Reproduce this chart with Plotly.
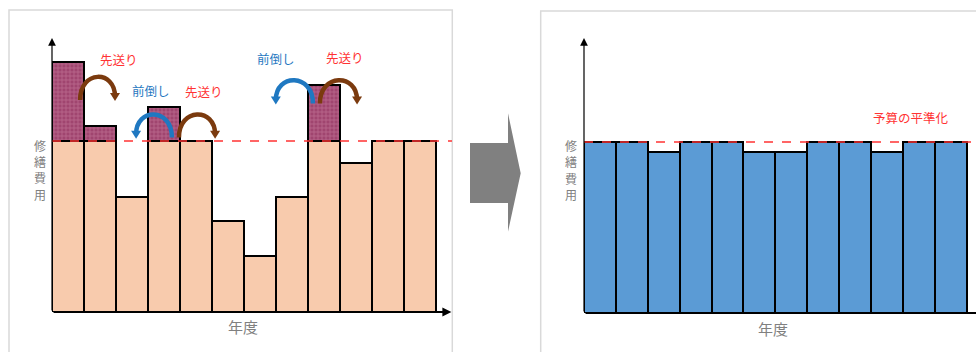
import plotly.graph_objects as go

# ---------------- data ----------------
years = list(range(12))
left_base = [100, 100, 67, 100, 100, 53, 33, 67, 100, 87, 100, 100]
left_excess = [46, 9, 0, 20, 0, 0, 0, 0, 33, 0, 0, 0]
right_values = [100, 100, 94, 100, 100, 94, 94, 100, 100, 94, 100, 100]
budget = 100
y_label = ["修", "繕", "費", "用"]
x_label = "年度"
level_label = "予算の平準化"
# curved arrows: (x_from, x_to, y_base, y_top, kind)
arcs = [
    (0.38, 1.47, 127, 138, "late"),
    (3.25, 2.13, 105, 116, "early"),
    (3.47, 4.60, 105, 116, "late"),
    (7.66, 6.50, 125, 136, "early"),
    (7.88, 9.04, 125, 136, "late"),
]
arc_labels = [
    (1.58, 147.4, "先送り", "late"),
    (2.61, 129.8, "前倒し", "early"),
    (4.24, 128.7, "先送り", "late"),
    (6.52, 148.5, "前倒し", "early"),
    (8.66, 149.1, "先送り", "late"),
]

W, H = 976, 352
ORANGE = "#F8CBAD"
PURPLE = "#A0456F"
BLUE_BAR = "#5B9BD5"
RED = "#FF3333"
C_EARLY = "#1F78C1"
C_LATE = "#7B3A0E"
GRAY_TXT = "#808080"

# pixel geometry of the two plots
L_X0, L_X1, L_XEND = 52, 435.7, 452
R_X0, R_X1, R_XEND = 584, 966.7, 976
L_Y0, R_Y0, Y_TOP = 312, 313, 38
PX_PER_UNIT_Y = 1.71
sxL = (L_X1 - L_X0) / 12
sxR = (R_X1 - R_X0) / 12

fig = go.Figure()
fig.add_trace(go.Bar(x=years, y=left_base, marker=dict(color=ORANGE, line=dict(color="#000", width=2)),
                     xaxis="x", yaxis="y", width=1, hoverinfo="skip"))
fig.add_trace(go.Bar(x=years, y=left_excess,
                     marker=dict(color=PURPLE, line=dict(color="#000", width=2),
                                 pattern=dict(shape="+", fgcolor="#D590AE", bgcolor=PURPLE, size=4, solidity=0.35)),
                     xaxis="x", yaxis="y", width=1, hoverinfo="skip"))
fig.add_trace(go.Bar(x=years, y=right_values, marker=dict(color=BLUE_BAR, line=dict(color="#000", width=2)),
                     xaxis="x2", yaxis="y2", width=1, hoverinfo="skip"))

xl_range = [-0.5, -0.5 + (L_XEND - L_X0) / sxL]
xr_range = [-0.5, -0.5 + (R_XEND - R_X0) / sxR]
yl_range = [0, (L_Y0 - Y_TOP) / PX_PER_UNIT_Y]
yr_range = [0, (R_Y0 - Y_TOP) / PX_PER_UNIT_Y]

ax_common = dict(showgrid=False, zeroline=False, showticklabels=False, ticks="", showline=False, fixedrange=True)
fig.update_layout(
    width=W, height=H, margin=dict(l=0, r=0, t=0, b=0),
    paper_bgcolor="white", plot_bgcolor="rgba(0,0,0,0)",
    barmode="stack", bargap=0, showlegend=False,
    font=dict(family="Noto Sans CJK JP"),
    xaxis=dict(domain=[L_X0 / W, L_XEND / W], range=xl_range, **ax_common),
    yaxis=dict(domain=[(H - L_Y0) / H, (H - Y_TOP) / H], range=yl_range, **ax_common),
    xaxis2=dict(domain=[R_X0 / W, R_XEND / W], range=xr_range, **ax_common),
    yaxis2=dict(domain=[(H - R_Y0) / H, (H - Y_TOP) / H], range=yr_range, anchor="x2", **ax_common),
)
fig.layout.xaxis2.anchor = "y2"

shapes = []
# panel frames
shapes.append(dict(type="rect", xref="paper", yref="paper", x0=9 / W, x1=452.3 / W, y0=-0.05, y1=(H - 10) / H,
                   line=dict(color="#D9D9D9", width=1.5), layer="below"))
shapes.append(dict(type="rect", xref="paper", yref="paper", x0=540.7 / W, x1=1.05, y0=-0.05, y1=(H - 11) / H,
                   line=dict(color="#D9D9D9", width=1.5), layer="below"))
# big gray arrow
def px(x, y):
    return f"{x / W:.5f},{(H - y) / H:.5f}"
shapes.append(dict(type="path", xref="paper", yref="paper",
                   path="M " + " L ".join([px(470, 143), px(508, 143), px(508, 113.3), px(520.7, 173.3),
                                           px(508, 231.7), px(508, 203), px(470, 203)]) + " Z",
                   fillcolor="#808080", line=dict(width=0)))
# budget lines
shapes.append(dict(type="line", xref="x", yref="y", x0=-0.5, x1=-0.5 + (455 - L_X0) / sxL, y0=budget, y1=budget,
                   line=dict(color=RED, width=1.5, dash="dash"), layer="above"))
shapes.append(dict(type="line", xref="x2", yref="y2", x0=-0.5, x1=xr_range[1], y0=budget, y1=budget,
                   line=dict(color=RED, width=1.5, dash="dash"), layer="above"))

# curved arrows
for x0, x1, yb, yt, kind in arcs:
    col = C_EARLY if kind == "early" else C_LATE
    cy = yb + (yt - yb) / 0.75
    shapes.append(dict(type="path", xref="x", yref="y",
                       path=f"M {x0},{yb - 3} C {x0},{cy} {x1},{cy} {x1},{yb - 1}",
                       line=dict(color=col, width=4.5), fillcolor="rgba(0,0,0,0)", layer="above"))
    hw = 5 / sxL
    hh = 8 / PX_PER_UNIT_Y
    shapes.append(dict(type="path", xref="x", yref="y",
                       path=f"M {x1 - hw},{yb + 1} L {x1 + hw},{yb + 1} L {x1},{yb + 1 - hh} Z",
                       fillcolor=col, line=dict(width=0), layer="above"))
fig.update_layout(shapes=shapes)

ann = []
# axis arrows
for xr, yr, xmax, ymax in (("x", "y", xl_range[1] - 0.02, yl_range[1]), ("x2", "y2", xr_range[1] + 0.3, yr_range[1])):
    ann.append(dict(xref=xr, yref=yr, axref=xr, ayref=yr, x=-0.5, y=ymax, ax=-0.5, ay=0, text="", showarrow=True,
                    arrowhead=2, arrowsize=1.3, arrowwidth=1.2, arrowcolor="black"))
    ann.append(dict(xref=xr, yref=yr, axref=xr, ayref=yr, x=xmax, y=0, ax=-0.5, ay=0, text="", showarrow=True,
                    arrowhead=2, arrowsize=0.9, arrowwidth=2, arrowcolor="black"))
# axis titles
def label(x, y, text, size, color, pad=1):
    ann.append(dict(xref="paper", yref="paper", x=x / W, y=(H - y) / H, text=text, showarrow=False,
                    xanchor="center", yanchor="middle", borderpad=pad, font=dict(size=size, color=color)))
for cx, top in ((39.5, 145), (571, 145.5)):
    for i, ch in enumerate(y_label):
        label(cx, top + 16.4 * i, ch, 12, GRAY_TXT, pad=0)
label(243, 326, x_label, 15, GRAY_TXT)
label(773, 328, x_label, 15, GRAY_TXT)
label(910.5, 117, level_label, 12.5, RED)
# arrow labels
for xx, yy, t, kind in arc_labels:
    ann.append(dict(xref="x", yref="y", x=xx, y=yy, text=t, showarrow=False, xanchor="center", yanchor="middle",
                    font=dict(size=12.5, color=C_EARLY if kind == "early" else RED)))
fig.update_layout(annotations=ann)

fig.write_html("out.html")
